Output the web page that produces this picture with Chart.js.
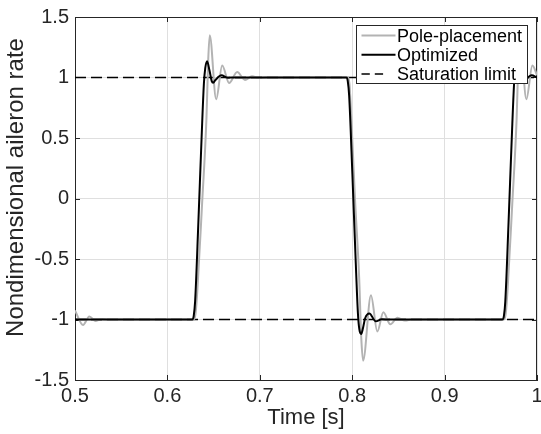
<!DOCTYPE html>
<html>
<head>
<meta charset="utf-8">
<script src="https://cdn.jsdelivr.net/npm/chart.js@4"></script>
<style>
html,body{margin:0;padding:0;background:#fff;}
canvas{display:block;}
</style>
</head>
<body>
<canvas id="c" width="541" height="434" style="width:541px;height:434px;"></canvas>
<script>
// ---- data ----
const xTickValues = [0.5, 0.6, 0.7, 0.8, 0.9, 1.0];
const xTickLabels = ['0.5', '0.6', '0.7', '0.8', '0.9', '1'];
const yTickValues = [-1.5, -1, -0.5, 0, 0.5, 1, 1.5];
const yTickLabels = ['-1.5', '-1', '-0.5', '0', '0.5', '1', '1.5'];
const seriesNames = ['Pole-placement', 'Optimized', 'Saturation limit'];

const poleTime = [
  0.5, 0.5087, 0.5155, 0.5225, 0.5295, 0.537,
  0.6285, 0.6305, 0.6325, 0.6375, 0.6422, 0.6442, 0.6458,
  0.6528, 0.6593, 0.6668, 0.6755, 0.684, 0.6915, 0.699, 0.707,
  0.7955, 0.797, 0.7985, 0.803, 0.8075, 0.8098, 0.8118,
  0.8203, 0.8272, 0.8337, 0.8413, 0.849, 0.857, 0.865,
  0.9642, 0.9662, 0.9682, 0.9732, 0.9779, 0.9799, 0.9815,
  0.9885, 0.995, 1.0
];
const poleValue = [
  -0.925, -1.045, -0.975, -1.012, -0.995, -1.0,
  -1.0, -0.95, -0.75, -0.05, 0.65, 1.15, 1.35,
  0.82, 1.10, 0.955, 1.045, 0.98, 1.01, 0.995, 1.0,
  1.0, 0.95, 0.75, 0.0, -0.65, -1.15, -1.34,
  -0.80, -1.10, -0.94, -1.04, -0.985, -1.008, -1.0,
  -1.0, -0.95, -0.75, -0.05, 0.65, 1.15, 1.35,
  0.82, 1.10, 1.02
];

const optTime = [
  0.5, 0.627, 0.6285, 0.630, 0.6335, 0.637, 0.6395, 0.641, 0.643, 0.6455,
  0.648, 0.6495, 0.652, 0.6585, 0.6655, 0.672,
  0.7938, 0.7952, 0.7967, 0.8002, 0.8037, 0.8062, 0.8077, 0.8097, 0.8117,
  0.814, 0.8185, 0.8255, 0.832, 0.84,
  0.9627, 0.9642, 0.9657, 0.9692, 0.9727, 0.9752, 0.9767, 0.9787, 0.9812,
  0.9837, 0.9852, 0.9877, 0.9942, 1.0
];
const optValue = [
  -1.0, -1.0, -0.97, -0.85, -0.2, 0.5, 0.95, 1.08, 1.135, 1.06,
  0.97, 0.957, 0.98, 1.018, 0.998, 1.0,
  1.0, 0.97, 0.85, 0.2, -0.5, -0.95, -1.08, -1.12, -1.07,
  -0.99, -0.95, -1.015, -0.998, -1.0,
  -1.0, -0.97, -0.85, -0.2, 0.5, 0.95, 1.08, 1.135, 1.06,
  0.97, 0.957, 0.98, 1.018, 1.0
];

const satTime = [0.5, 1.0];
const satUpper = [1, 1];
const satLower = [-1, -1];

// ---- helpers ----
const toPts = (xs, ys) => xs.map((x, i) => ({x: x, y: ys[i]}));
const FONT = '"Liberation Sans", Arial, Helvetica, sans-serif';
const AXIS_COLOR = '#262626';
const Y_TITLE_SHIFT = -11;

const framePlugin = {
  id: 'frame',
  beforeDraw(chart) {
    const ys = chart.scales.y;
    if (!ys._titleShifted) {
      const orig = ys.drawTitle;
      ys.drawTitle = function () {
        this.ctx.save();
        this.ctx.translate(0, Y_TITLE_SHIFT);
        orig.call(this);
        this.ctx.restore();
      };
      ys._titleShifted = true;
    }
  },
  beforeDatasetsDraw(chart) {
    const {ctx, chartArea: a, scales} = chart;
    const xs = scales.x, ys = scales.y;
    const L = 5;
    ctx.save();
    ctx.strokeStyle = AXIS_COLOR;
    ctx.lineWidth = 1;
    ctx.beginPath();
    xs.ticks.forEach(t => {
      const px = Math.round(xs.getPixelForValue(t.value)) + 0.5;
      ctx.moveTo(px, a.bottom); ctx.lineTo(px, a.bottom - L);
      ctx.moveTo(px, a.top); ctx.lineTo(px, a.top + L);
    });
    ys.ticks.forEach(t => {
      const py = Math.round(ys.getPixelForValue(t.value)) + 0.5;
      ctx.moveTo(a.left, py); ctx.lineTo(a.left + L, py);
      ctx.moveTo(a.right, py); ctx.lineTo(a.right - L, py);
    });
    ctx.moveTo(Math.round(a.left) + 0.5, Math.round(a.top) + 0.5);
    ctx.lineTo(Math.round(a.right) - 0.5, Math.round(a.top) + 0.5);
    ctx.lineTo(Math.round(a.right) - 0.5, Math.round(a.bottom) + 0.5);
    ctx.stroke();
    ctx.restore();
  }
};

const legendPlugin = {
  id: 'boxLegend',
  afterDraw(chart) {
    const {ctx, chartArea: a} = chart;
    const ds = chart.data.datasets;
    const items = [ds[1], ds[0], ds[2]]; // pole, optimized, saturation
    ctx.save();
    ctx.font = '18px ' + FONT;
    const tw = Math.max(...items.map(d => ctx.measureText(d.label).width));
    const w = Math.round(41 + tw + 5);
    const h = 58;
    const right = Math.round(a.right - 10);
    const left = right - w + 0.5;
    const top = Math.round(a.top + 8) + 0.5;
    ctx.fillStyle = '#ffffff';
    ctx.fillRect(left, top, w, h);
    ctx.strokeStyle = AXIS_COLOR;
    ctx.lineWidth = 1;
    ctx.strokeRect(left, top, w, h);
    items.forEach((d, i) => {
      const ly = top + 10 + i * 19.2;
      ctx.beginPath();
      ctx.strokeStyle = d.borderColor;
      ctx.lineWidth = d.borderWidth;
      if (d.borderDash && d.borderDash.length) {
        ctx.setLineDash([8.3, 5]);
        ctx.moveTo(left + 5, ly); ctx.lineTo(left + 27, ly);
      } else {
        ctx.setLineDash([]);
        ctx.moveTo(left + 5, ly); ctx.lineTo(left + 39, ly);
      }
      ctx.stroke();
      ctx.setLineDash([]);
      ctx.fillStyle = '#000000';
      ctx.textBaseline = 'middle';
      ctx.textAlign = 'left';
      ctx.fillText(d.label, left + 40.5, ly + 1.5);
    });
    ctx.restore();
  }
};

Chart.defaults.font.family = FONT;

new Chart(document.getElementById('c'), {
  type: 'line',
  data: {
    datasets: [
      {
        label: seriesNames[1],
        data: toPts(optTime, optValue),
        borderColor: '#000000',
        borderWidth: 2,
        pointRadius: 0,
        cubicInterpolationMode: 'monotone',
        order: 0
      },
      {
        label: seriesNames[0],
        data: toPts(poleTime, poleValue),
        borderColor: '#b3b3b3',
        borderWidth: 2,
        pointRadius: 0,
        cubicInterpolationMode: 'monotone',
        order: 1
      },
      {
        label: seriesNames[2],
        data: toPts(satTime, satUpper),
        borderColor: '#000000',
        borderWidth: 1.5,
        borderDash: [11, 5],
        pointRadius: 0,
        tension: 0,
        order: 2
      },
      {
        label: seriesNames[2],
        data: toPts(satTime, satLower),
        borderColor: '#000000',
        borderWidth: 1.5,
        borderDash: [11, 5],
        pointRadius: 0,
        tension: 0,
        order: 2
      }
    ]
  },
  options: {
    responsive: false,
    animation: false,
    events: [],
    layout: {padding: {top: 17, right: 4, left: 0, bottom: 0}},
    plugins: {legend: {display: false}, tooltip: {enabled: false}},
    scales: {
      x: {
        type: 'linear',
        min: 0.5,
        max: 1.0,
        afterBuildTicks: s => { s.ticks = xTickValues.map(v => ({value: v})); },
        afterFit: s => { s.height = 54; s.paddingLeft = 0; s.paddingRight = 0; },
        ticks: {
          autoSkip: false,
          maxRotation: 0,
          padding: 4,
          color: AXIS_COLOR,
          font: {size: 20},
          callback: (v, i) => xTickLabels[i]
        },
        grid: {color: '#dfdfdf', lineWidth: 1, drawTicks: false},
        border: {display: true, color: AXIS_COLOR, width: 1},
        title: {
          display: true,
          text: 'Time [s]',
          color: AXIS_COLOR,
          font: {size: 22},
          padding: {top: 0, bottom: 3}
        }
      },
      y: {
        type: 'linear',
        min: -1.5,
        max: 1.5,
        afterBuildTicks: s => { s.ticks = yTickValues.map(v => ({value: v})); },
        afterFit: s => { s.width = 75; s.paddingTop = 0; s.paddingBottom = 0; },
        ticks: {
          autoSkip: false,
          padding: 6,
          color: AXIS_COLOR,
          font: {size: 20},
          callback: (v, i) => yTickLabels[i]
        },
        grid: {color: '#dfdfdf', lineWidth: 1, drawTicks: false},
        border: {display: true, color: AXIS_COLOR, width: 1},
        title: {
          display: true,
          text: 'Nondimensional aileron rate',
          color: AXIS_COLOR,
          font: {size: 24},
          padding: {top: 2, bottom: 0}
        }
      }
    }
  },
  plugins: [framePlugin, legendPlugin]
});
</script>
</body>
</html>
